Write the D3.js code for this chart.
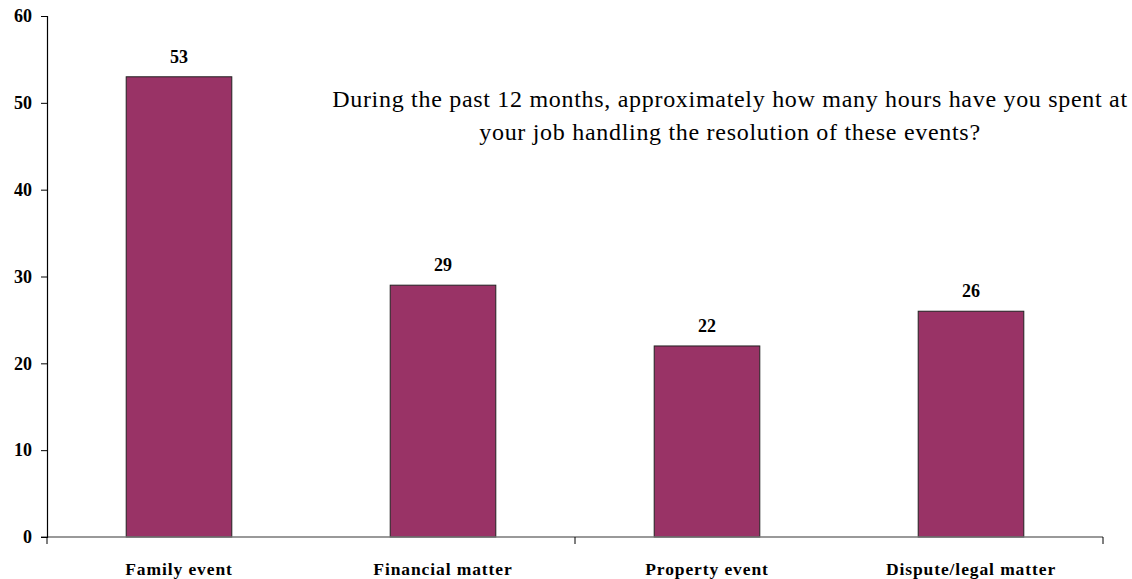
<!DOCTYPE html>
<html>
<head>
<meta charset="utf-8">
<script src="https://cdn.jsdelivr.net/npm/d3@7"></script>
<style>
  html, body { margin: 0; padding: 0; background: #fff; }
  svg { display: block; }
  svg text { font-family: "Liberation Serif", "Times New Roman", Times, serif; }
</style>
</head>
<body>
<svg id="chart" width="1132" height="579"></svg>
<script>
const categories = ["Family event", "Financial matter", "Property event", "Dispute/legal matter"];
const values = [53, 29, 22, 26];
const yTicks = [0, 10, 20, 30, 40, 50, 60];
const titleLines = [
  "During the past 12 months, approximately how many hours have you spent at",
  "your job handling the resolution of these events?"
];

const svg = d3.select("#chart");
const m = { left: 47, right: 1103, top: 16, bottom: 537 };

const x = d3.scaleBand().domain(categories).range([m.left, m.right]);
const y = d3.scaleLinear().domain([0, 60]).range([m.bottom, m.top]);
const barW = x.bandwidth() * 0.4;

// bars
svg.append("g").selectAll("rect").data(values).join("rect")
  .attr("x", (d, i) => x(categories[i]) + x.bandwidth() / 2 - barW / 2)
  .attr("y", d => y(d))
  .attr("width", barW)
  .attr("height", d => y(0) - y(d))
  .attr("fill", "#993366")
  .attr("stroke", "#222")
  .attr("stroke-width", 1);

// x axis
const xAxis = svg.append("g")
  .attr("transform", `translate(0,${m.bottom})`);
xAxis.append("line")
  .attr("x1", m.left - 6).attr("x2", m.right).attr("y1", 0).attr("y2", 0)
  .attr("stroke", "#777").attr("stroke-width", 1.5);
const bounds = [0, 2, 4].map(i => m.left + x.step() * i);
xAxis.selectAll("line.tk").data(bounds).join("line").attr("class", "tk")
  .attr("x1", d => d).attr("x2", d => d).attr("y1", 0).attr("y2", 7)
  .attr("stroke", "#000");
xAxis.selectAll("text").data(categories).join("text")
  .attr("x", d => x(d) + x.bandwidth() / 2)
  .attr("y", 38)
  .attr("text-anchor", "middle")
  .attr("font-weight", "bold").attr("font-size", 17.5)
  .attr("letter-spacing", 0.9)
  .attr("fill", "#000")
  .text(d => d);

// y axis
const yAxis = svg.append("g")
  .attr("transform", `translate(${m.left},0)`)
  .call(d3.axisLeft(y).tickValues(yTicks).tickSize(6).tickPadding(9).tickFormat(d3.format("d")));
yAxis.select(".domain").attr("stroke", "#000").attr("stroke-width", 1.2);
yAxis.selectAll(".tick line").attr("stroke", "#000");
yAxis.selectAll(".tick text")
  .attr("font-family", null)
  .attr("font-weight", "bold").attr("font-size", 18).attr("fill", "#000");

// value labels
svg.append("g").selectAll("text").data(values).join("text")
  .attr("x", (d, i) => x(categories[i]) + x.bandwidth() / 2)
  .attr("y", d => y(d) - 14)
  .attr("text-anchor", "middle")
  .attr("font-weight", "bold").attr("font-size", 18).attr("fill", "#000")
  .text(d => d);

// title
svg.append("text")
  .attr("text-anchor", "middle")
  .attr("font-size", 24).attr("letter-spacing", 0.7).attr("fill", "#000")
  .selectAll("tspan").data(titleLines).join("tspan")
  .attr("x", 730)
  .attr("y", (d, i) => 107 + i * 33)
  .text(d => d);
</script>
</body>
</html>
